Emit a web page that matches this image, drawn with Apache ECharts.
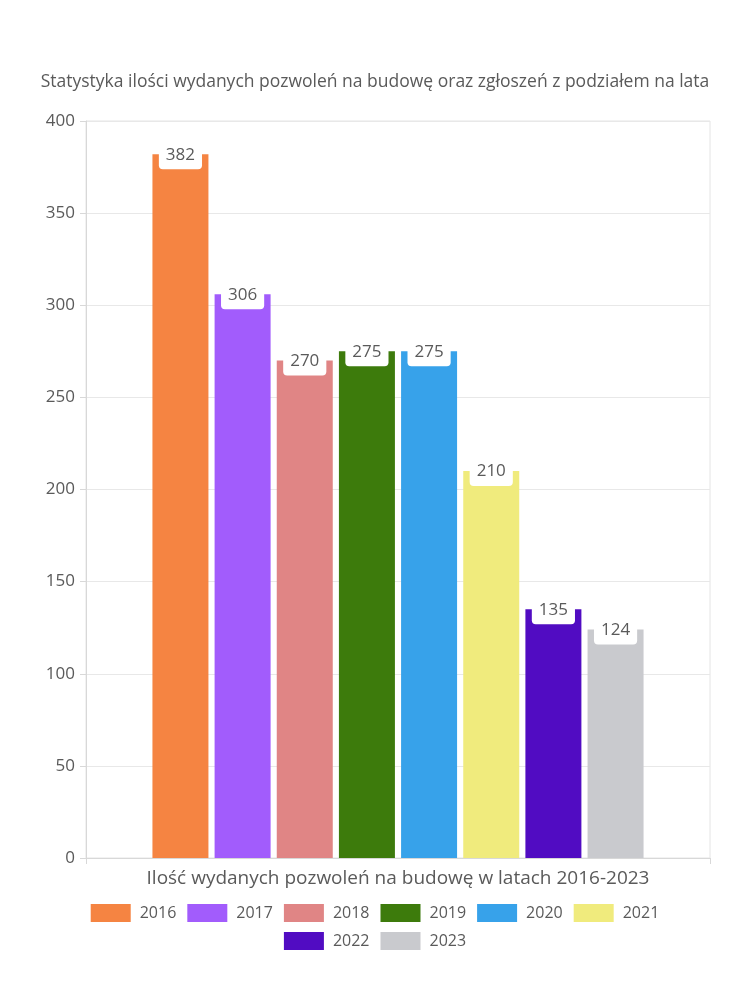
<!DOCTYPE html>
<html><head><meta charset="utf-8">
<script src="https://cdn.jsdelivr.net/npm/echarts@6/dist/echarts.min.js"></script>
<style>html,body{margin:0;padding:0;background:#fff}#c{width:750px;height:1000px}</style>
</head><body><div id="c"></div>
<script>
const titleText = 'Statystyka ilości wydanych pozwoleń na budowę oraz zgłoszeń z podziałem na lata';
const categories = ['Ilość wydanych pozwoleń na budowę w latach 2016-2023'];
const years = ['2016','2017','2018','2019','2020','2021','2022','2023'];
const values = [382, 306, 270, 275, 275, 210, 135, 124];
const colors = ['#F58442','#A25CFC','#E08585','#3D7B0C','#37A2EA','#F0EB7D','#510CC2','#C9CACE'];
const yTicks = [0, 50, 100, 150, 200, 250, 300, 350, 400];

const FONT = '"Open Sans", "Noto Sans", sans-serif';
const TXT = '#5a5a5a';
const legendText = {fontSize:16,color:TXT,fontFamily:FONT,padding:[0,0,0,4]};
const chart = echarts.init(document.getElementById('c'), null, {renderer:'canvas'});
chart.setOption({
  animation:false,
  textStyle:{fontFamily:FONT},
  title:{text:titleText,left:'center',top:68,textStyle:{fontSize:17.5,fontWeight:'normal',color:TXT,fontFamily:FONT}},
  grid:{left:86,right:40,top:121,bottom:142,show:true,borderColor:'#e4e4e4',borderWidth:1},
  legend:[
    {top:899,left:'center',itemWidth:40,itemHeight:18,itemGap:11,icon:'rect',
      textStyle:legendText,data:years.slice(0,6)},
    {top:927,left:'center',itemWidth:40,itemHeight:18,itemGap:11,icon:'rect',
      textStyle:legendText,data:years.slice(6)}
  ],
  xAxis:{type:'category',data:categories,
    axisLine:{lineStyle:{color:'#d8d8d8'}},axisTick:{show:true,length:6,lineStyle:{color:'#d8d8d8'}},
    axisLabel:{fontSize:19,color:TXT,margin:11,fontFamily:FONT}},
  yAxis:{type:'value',min:yTicks[0],max:yTicks[yTicks.length-1],interval:50,
    axisLine:{show:true,lineStyle:{color:'#d8d8d8'}},axisTick:{show:true,length:6,lineStyle:{color:'#d8d8d8'}},
    splitLine:{lineStyle:{color:'#e8e8e8'}},
    axisLabel:{fontSize:17,color:TXT,margin:11,fontFamily:FONT}},
  series: years.map((y,i)=>({
    name:y,type:'bar',barWidth:56,barGap:'11%',
    itemStyle:{color:colors[i]},
    data:[values[i]],
    label:{show:true,position:'top',distance:-15,backgroundColor:'#fff',borderRadius:4,
      padding:[6,7],fontSize:17,color:TXT,fontFamily:FONT}
  }))
});
</script></body></html>
